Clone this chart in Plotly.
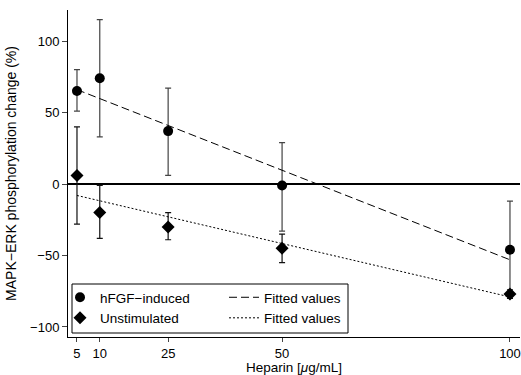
import plotly.graph_objects as go

# Data
heparin = [5, 10, 25, 50, 100]
hfgf = [65, 74, 37, -1, -46]
hfgf_hi = [80, 115, 67, 29, -12]
hfgf_lo = [51, 33, 6, -33, -80]
unstim = [6, -20, -30, -45, -77]
unstim_hi = [40, -1, -20, -35, -74]
unstim_lo = [-28, -38, -39, -55, -80]
fit_x = [5, 100]
fit_hfgf = [66, -53]
fit_unstim = [-8, -79]
xticks = [5, 10, 25, 50, 100]
yticks = [-100, -50, 0, 50, 100]

FONT = "Liberation Sans, Arial, Helvetica, sans-serif"

def err(vals, hi, lo):
    return ([h - v for v, h in zip(vals, hi)], [v - l for v, l in zip(vals, lo)])

hp, hm = err(hfgf, hfgf_hi, hfgf_lo)
up, um = err(unstim, unstim_hi, unstim_lo)

fig = go.Figure()
fig.add_trace(go.Scatter(
    x=heparin, y=hfgf, mode="markers", name="hFGF\u2212induced", legend="legend",
    marker=dict(symbol="circle", size=10, color="black"),
    error_y=dict(type="data", symmetric=False, array=hp, arrayminus=hm,
                 color="#444", thickness=1.2, width=3),
))
fig.add_trace(go.Scatter(
    x=heparin, y=unstim, mode="markers", name="Unstimulated", legend="legend",
    marker=dict(symbol="diamond", size=10, color="black"),
    error_y=dict(type="data", symmetric=False, array=up, arrayminus=um,
                 color="#111", thickness=1.2, width=3),
))
fig.add_trace(go.Scatter(
    x=fit_x, y=fit_hfgf, mode="lines", name="Fitted values", legend="legend2",
    line=dict(color="black", width=1, dash="8px,4px"),
))
fig.add_trace(go.Scatter(
    x=fit_x, y=fit_unstim, mode="lines", name="Fitted values", legend="legend2",
    line=dict(color="black", width=1, dash="2px,2px"),
))

W, H = 521, 375
ml, mr, mt, mb = 68, 1, 10, 38
pw, ph = W - ml - mr, H - mt - mb

def px2x(px):
    return (px - ml) / pw

def py2y(py):
    return (H - mb - py) / ph

fig.update_layout(
    width=W, height=H,
    margin=dict(l=ml, r=mr, t=mt, b=mb),
    paper_bgcolor="white", plot_bgcolor="white",
    font=dict(family=FONT, size=13, color="black"),
    showlegend=True,
    legend=dict(x=px2x(60), y=py2y(334), xanchor="left", yanchor="bottom",
                bgcolor="rgba(0,0,0,0)", borderwidth=0, font=dict(size=13.5),
                tracegroupgap=0),
    legend2=dict(x=px2x(224), y=py2y(334), xanchor="left", yanchor="bottom",
                 bgcolor="rgba(0,0,0,0)", borderwidth=0, font=dict(size=13.5),
                 tracegroupgap=0),
    shapes=[dict(type="rect", xref="paper", yref="paper",
                 x0=px2x(72), x1=px2x(348), y0=py2y(333), y1=py2y(284),
                 line=dict(color="black", width=1))],
)
fig.update_xaxes(
    range=[3.03, 102.2], tickvals=xticks, ticks="outside", ticklen=4,
    showline=True, linecolor="black", linewidth=1, showgrid=False, zeroline=False,
    title=dict(text="Heparin [<i>\u03bc</i>g/mL]", font=dict(size=13.5), standoff=5),
    tickfont=dict(size=13),
)
fig.update_yaxes(
    range=[-107, 121.7], tickvals=yticks, ticks="outside", ticklen=5,
    showline=True, linecolor="black", linewidth=1, showgrid=False,
    zeroline=True, zerolinecolor="black", zerolinewidth=1.5,
    title=dict(text="MAPK\u2212ERK phosphorylation change (%)", font=dict(size=14), standoff=10),
    tickfont=dict(size=13),
)

fig.write_html("out.html")
